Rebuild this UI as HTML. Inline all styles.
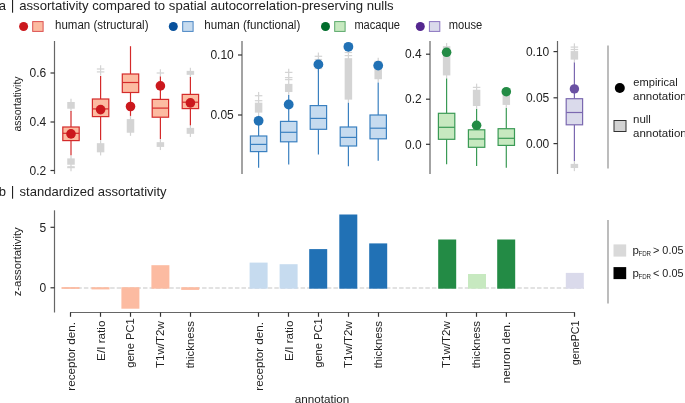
<!DOCTYPE html>
<html><head><meta charset="utf-8"><style>
html,body{margin:0;padding:0;background:#fff;width:685px;height:403px;overflow:hidden}
svg{display:block;font-family:"Liberation Sans", sans-serif;will-change:transform}
</style></head><body>
<svg width="685" height="403" viewBox="0 0 685 403">
<rect width="685" height="403" fill="#fff"/>
<text x="-1.2" y="10" font-size="13" text-anchor="start" fill="#222" >a</text>
<rect x="12" y="0" width="1.1" height="12.7" fill="#222" stroke="none" stroke-width="0" />
<text x="19.2" y="10" font-size="13" text-anchor="start" fill="#222" textLength="374.5" lengthAdjust="spacingAndGlyphs" >assortativity compared to spatial autocorrelation-preserving nulls</text>
<text x="-1.2" y="196" font-size="13" text-anchor="start" fill="#222" >b</text>
<rect x="12" y="186" width="1.1" height="12.7" fill="#222" stroke="none" stroke-width="0" />
<text x="19.6" y="196" font-size="13" text-anchor="start" fill="#222" textLength="147" lengthAdjust="spacingAndGlyphs" >standardized assortativity</text>
<circle cx="23.6" cy="26.5" r="4.5" fill="#cb181d"/>
<rect x="32.7" y="21.6" width="10.4" height="9.8" fill="#fcbba1" stroke="#dc5050" stroke-width="1" />
<text x="55" y="29.4" font-size="12" text-anchor="start" fill="#222" textLength="93.5" lengthAdjust="spacingAndGlyphs" >human (structural)</text>
<circle cx="173.3" cy="26.5" r="4.5" fill="#08519c"/>
<rect x="182.7" y="21.6" width="10.4" height="9.8" fill="#c6dbef" stroke="#4a86c4" stroke-width="1" />
<text x="204.3" y="29.4" font-size="12" text-anchor="start" fill="#222" textLength="96" lengthAdjust="spacingAndGlyphs" >human (functional)</text>
<circle cx="325.5" cy="26.5" r="4.5" fill="#006d2c"/>
<rect x="334.7" y="21.6" width="10.4" height="9.8" fill="#c7e9c0" stroke="#5aa86a" stroke-width="1" />
<text x="354.4" y="29.4" font-size="12" text-anchor="start" fill="#222" textLength="45.6" lengthAdjust="spacingAndGlyphs" >macaque</text>
<circle cx="420.3" cy="26.5" r="4.5" fill="#54278f"/>
<rect x="429.4" y="21.6" width="10.4" height="9.8" fill="#dadaeb" stroke="#8a74bf" stroke-width="1" />
<text x="448.7" y="29.4" font-size="12" text-anchor="start" fill="#222" textLength="33.5" lengthAdjust="spacingAndGlyphs" >mouse</text>
<line x1="54.5" y1="41" x2="54.5" y2="174" stroke="#666" stroke-width="1.2" />
<line x1="50.5" y1="73" x2="54.5" y2="73" stroke="#333" stroke-width="1.2" />
<text x="46.3" y="77.2" font-size="12" text-anchor="end" fill="#222" >0.6</text>
<line x1="50.5" y1="122" x2="54.5" y2="122" stroke="#333" stroke-width="1.2" />
<text x="46.3" y="126.2" font-size="12" text-anchor="end" fill="#222" >0.4</text>
<line x1="50.5" y1="170.5" x2="54.5" y2="170.5" stroke="#333" stroke-width="1.2" />
<text x="46.3" y="174.7" font-size="12" text-anchor="end" fill="#222" >0.2</text>
<text x="21" y="104" font-size="11.5" text-anchor="middle" fill="#222" textLength="55" lengthAdjust="spacingAndGlyphs" transform="rotate(-90 21 104)" >assortativity</text>
<rect x="67.25" y="101.975" width="7.5" height="6.75" fill="#d4d4d4" stroke="none" stroke-width="0" />
<line x1="71" y1="98.85" x2="71" y2="111.85" stroke="#d4d4d4" stroke-width="1.25" />
<rect x="67.25" y="158.375" width="7.5" height="6.349999999999994" fill="#d4d4d4" stroke="none" stroke-width="0" />
<line x1="71" y1="155.25" x2="71" y2="171.35" stroke="#d4d4d4" stroke-width="1.25" />
<line x1="67.25" y1="166.8" x2="74.75" y2="166.8" stroke="#d4d4d4" stroke-width="1.25" />
<line x1="67.25" y1="167.6" x2="74.75" y2="167.6" stroke="#d4d4d4" stroke-width="1.25" />
<line x1="100.6" y1="65.25" x2="100.6" y2="75.65" stroke="#d4d4d4" stroke-width="1.25" />
<line x1="96.85" y1="69" x2="104.35" y2="69" stroke="#d4d4d4" stroke-width="1.25" />
<line x1="96.85" y1="71.9" x2="104.35" y2="71.9" stroke="#d4d4d4" stroke-width="1.25" />
<rect x="96.85" y="143.175" width="7.5" height="9.149999999999977" fill="#d4d4d4" stroke="none" stroke-width="0" />
<line x1="100.6" y1="140.05" x2="100.6" y2="155.45" stroke="#d4d4d4" stroke-width="1.25" />
<rect x="126.75" y="119.075" width="7.5" height="13.649999999999991" fill="#d4d4d4" stroke="none" stroke-width="0" />
<line x1="130.5" y1="115.95" x2="130.5" y2="135.85" stroke="#d4d4d4" stroke-width="1.25" />
<line x1="160.4" y1="69.25" x2="160.4" y2="76.75" stroke="#d4d4d4" stroke-width="1.25" />
<line x1="156.65" y1="73" x2="164.15" y2="73" stroke="#d4d4d4" stroke-width="1.25" />
<rect x="156.65" y="142.175" width="7.5" height="4.75" fill="#d4d4d4" stroke="none" stroke-width="0" />
<line x1="160.4" y1="139.05" x2="160.4" y2="150.05" stroke="#d4d4d4" stroke-width="1.25" />
<rect x="186.65" y="70.875" width="7.5" height="3.950000000000003" fill="#d4d4d4" stroke="none" stroke-width="0" />
<line x1="190.4" y1="67.75" x2="190.4" y2="77.95" stroke="#d4d4d4" stroke-width="1.25" />
<rect x="186.65" y="127.875" width="7.5" height="5.949999999999989" fill="#d4d4d4" stroke="none" stroke-width="0" />
<line x1="190.4" y1="124.75" x2="190.4" y2="136.95" stroke="#d4d4d4" stroke-width="1.25" />
<line x1="71" y1="111.1" x2="71" y2="127" stroke="#d42a2a" stroke-width="1.2" />
<line x1="71" y1="140.6" x2="71" y2="155.3" stroke="#d42a2a" stroke-width="1.2" />
<rect x="62.8" y="127" width="16.4" height="13.599999999999994" fill="#fcbba1" stroke="#d42a2a" stroke-width="1.2" />
<line x1="62.8" y1="133.3" x2="79.2" y2="133.3" stroke="#d42a2a" stroke-width="1.2" />
<circle cx="71" cy="133.9" r="4.8" fill="#cb181d"/>
<line x1="100.6" y1="75.9" x2="100.6" y2="99" stroke="#d42a2a" stroke-width="1.2" />
<line x1="100.6" y1="116.6" x2="100.6" y2="139.9" stroke="#d42a2a" stroke-width="1.2" />
<rect x="92.39999999999999" y="99" width="16.4" height="17.599999999999994" fill="#fcbba1" stroke="#d42a2a" stroke-width="1.2" />
<line x1="92.39999999999999" y1="108.9" x2="108.8" y2="108.9" stroke="#d42a2a" stroke-width="1.2" />
<circle cx="100.6" cy="109.6" r="4.8" fill="#cb181d"/>
<line x1="130.5" y1="46.2" x2="130.5" y2="74" stroke="#d42a2a" stroke-width="1.2" />
<line x1="130.5" y1="92.5" x2="130.5" y2="115.9" stroke="#d42a2a" stroke-width="1.2" />
<rect x="122.3" y="74" width="16.4" height="18.5" fill="#fcbba1" stroke="#d42a2a" stroke-width="1.2" />
<line x1="122.3" y1="82.5" x2="138.7" y2="82.5" stroke="#d42a2a" stroke-width="1.2" />
<circle cx="130.5" cy="106.5" r="4.8" fill="#cb181d"/>
<line x1="160.4" y1="76.4" x2="160.4" y2="99.4" stroke="#d42a2a" stroke-width="1.2" />
<line x1="160.4" y1="117.2" x2="160.4" y2="139" stroke="#d42a2a" stroke-width="1.2" />
<rect x="152.20000000000002" y="99.4" width="16.4" height="17.799999999999997" fill="#fcbba1" stroke="#d42a2a" stroke-width="1.2" />
<line x1="152.20000000000002" y1="108.1" x2="168.6" y2="108.1" stroke="#d42a2a" stroke-width="1.2" />
<circle cx="160.4" cy="85.9" r="4.8" fill="#cb181d"/>
<line x1="190.4" y1="77.1" x2="190.4" y2="94.4" stroke="#d42a2a" stroke-width="1.2" />
<line x1="190.4" y1="108.6" x2="190.4" y2="125.2" stroke="#d42a2a" stroke-width="1.2" />
<rect x="182.20000000000002" y="94.4" width="16.4" height="14.199999999999989" fill="#fcbba1" stroke="#d42a2a" stroke-width="1.2" />
<line x1="182.20000000000002" y1="102.2" x2="198.6" y2="102.2" stroke="#d42a2a" stroke-width="1.2" />
<circle cx="190.4" cy="102.9" r="4.8" fill="#cb181d"/>
<line x1="242" y1="41" x2="242" y2="174" stroke="#666" stroke-width="1.2" />
<line x1="238" y1="55" x2="242" y2="55" stroke="#333" stroke-width="1.2" />
<text x="233.8" y="59.2" font-size="12" text-anchor="end" fill="#222" >0.10</text>
<line x1="238" y1="115" x2="242" y2="115" stroke="#333" stroke-width="1.2" />
<text x="233.8" y="119.2" font-size="12" text-anchor="end" fill="#222" >0.05</text>
<rect x="254.85000000000002" y="102.675" width="7.5" height="9.950000000000003" fill="#d4d4d4" stroke="none" stroke-width="0" />
<line x1="258.6" y1="91.95" x2="258.6" y2="115.75" stroke="#d4d4d4" stroke-width="1.25" />
<line x1="254.85000000000002" y1="95.7" x2="262.35" y2="95.7" stroke="#d4d4d4" stroke-width="1.25" />
<line x1="254.85000000000002" y1="100.7" x2="262.35" y2="100.7" stroke="#d4d4d4" stroke-width="1.25" />
<rect x="284.95" y="83.875" width="7.5" height="8.150000000000006" fill="#d4d4d4" stroke="none" stroke-width="0" />
<line x1="288.7" y1="68.65" x2="288.7" y2="95.15" stroke="#d4d4d4" stroke-width="1.25" />
<line x1="284.95" y1="72.4" x2="292.45" y2="72.4" stroke="#d4d4d4" stroke-width="1.25" />
<line x1="284.95" y1="77.6" x2="292.45" y2="77.6" stroke="#d4d4d4" stroke-width="1.25" />
<line x1="284.95" y1="79.6" x2="292.45" y2="79.6" stroke="#d4d4d4" stroke-width="1.25" />
<line x1="318.4" y1="52.55" x2="318.4" y2="72.25" stroke="#d4d4d4" stroke-width="1.25" />
<line x1="314.65" y1="56.3" x2="322.15" y2="56.3" stroke="#d4d4d4" stroke-width="1.25" />
<line x1="314.65" y1="59.5" x2="322.15" y2="59.5" stroke="#d4d4d4" stroke-width="1.25" />
<line x1="314.65" y1="68.5" x2="322.15" y2="68.5" stroke="#d4d4d4" stroke-width="1.25" />
<rect x="344.65" y="58.175" width="7.5" height="41.45" fill="#d4d4d4" stroke="none" stroke-width="0" />
<line x1="348.4" y1="48.75" x2="348.4" y2="102.75" stroke="#d4d4d4" stroke-width="1.25" />
<line x1="344.65" y1="52.5" x2="352.15" y2="52.5" stroke="#d4d4d4" stroke-width="1.25" />
<line x1="344.65" y1="55.6" x2="352.15" y2="55.6" stroke="#d4d4d4" stroke-width="1.25" />
<rect x="374.45" y="60.875" width="7.5" height="18.349999999999994" fill="#d4d4d4" stroke="none" stroke-width="0" />
<line x1="378.2" y1="57.75" x2="378.2" y2="82.35" stroke="#d4d4d4" stroke-width="1.25" />
<line x1="258.6" y1="115.8" x2="258.6" y2="136" stroke="#3a80c0" stroke-width="1.2" />
<line x1="258.6" y1="151.6" x2="258.6" y2="167.8" stroke="#3a80c0" stroke-width="1.2" />
<rect x="250.40000000000003" y="136" width="16.4" height="15.599999999999994" fill="#c6dbef" stroke="#3a80c0" stroke-width="1.2" />
<line x1="250.40000000000003" y1="144.4" x2="266.8" y2="144.4" stroke="#3a80c0" stroke-width="1.2" />
<circle cx="258.6" cy="120.8" r="4.9" fill="#2171b5"/>
<line x1="288.7" y1="95" x2="288.7" y2="121.4" stroke="#3a80c0" stroke-width="1.2" />
<line x1="288.7" y1="141.8" x2="288.7" y2="164.6" stroke="#3a80c0" stroke-width="1.2" />
<rect x="280.5" y="121.4" width="16.4" height="20.400000000000006" fill="#c6dbef" stroke="#3a80c0" stroke-width="1.2" />
<line x1="280.5" y1="132.3" x2="296.9" y2="132.3" stroke="#3a80c0" stroke-width="1.2" />
<circle cx="288.7" cy="104.5" r="4.9" fill="#2171b5"/>
<line x1="318.4" y1="64.4" x2="318.4" y2="105.6" stroke="#3a80c0" stroke-width="1.2" />
<line x1="318.4" y1="129.3" x2="318.4" y2="154.6" stroke="#3a80c0" stroke-width="1.2" />
<rect x="310.2" y="105.6" width="16.4" height="23.700000000000017" fill="#c6dbef" stroke="#3a80c0" stroke-width="1.2" />
<line x1="310.2" y1="118.4" x2="326.59999999999997" y2="118.4" stroke="#3a80c0" stroke-width="1.2" />
<circle cx="318.4" cy="64.4" r="4.9" fill="#2171b5"/>
<line x1="348.4" y1="102.7" x2="348.4" y2="127" stroke="#3a80c0" stroke-width="1.2" />
<line x1="348.4" y1="146" x2="348.4" y2="166.3" stroke="#3a80c0" stroke-width="1.2" />
<rect x="340.2" y="127" width="16.4" height="19" fill="#c6dbef" stroke="#3a80c0" stroke-width="1.2" />
<line x1="340.2" y1="137.4" x2="356.59999999999997" y2="137.4" stroke="#3a80c0" stroke-width="1.2" />
<circle cx="348.4" cy="46.8" r="4.9" fill="#2171b5"/>
<line x1="378.2" y1="82.4" x2="378.2" y2="115" stroke="#3a80c0" stroke-width="1.2" />
<line x1="378.2" y1="138.8" x2="378.2" y2="160.8" stroke="#3a80c0" stroke-width="1.2" />
<rect x="370.0" y="115" width="16.4" height="23.80000000000001" fill="#c6dbef" stroke="#3a80c0" stroke-width="1.2" />
<line x1="370.0" y1="128.2" x2="386.4" y2="128.2" stroke="#3a80c0" stroke-width="1.2" />
<circle cx="378.2" cy="65.6" r="4.9" fill="#2171b5"/>
<line x1="430" y1="41" x2="430" y2="174" stroke="#666" stroke-width="1.2" />
<line x1="426" y1="54.2" x2="430" y2="54.2" stroke="#333" stroke-width="1.2" />
<text x="421.8" y="58.400000000000006" font-size="12" text-anchor="end" fill="#222" >0.4</text>
<line x1="426" y1="99.2" x2="430" y2="99.2" stroke="#333" stroke-width="1.2" />
<text x="421.8" y="103.4" font-size="12" text-anchor="end" fill="#222" >0.2</text>
<line x1="426" y1="144.3" x2="430" y2="144.3" stroke="#333" stroke-width="1.2" />
<text x="421.8" y="148.5" font-size="12" text-anchor="end" fill="#222" >0.0</text>
<rect x="442.85" y="46.175" width="7.5" height="29.25" fill="#d4d4d4" stroke="none" stroke-width="0" />
<line x1="446.6" y1="43.05" x2="446.6" y2="78.55" stroke="#d4d4d4" stroke-width="1.25" />
<rect x="472.85" y="89.775" width="7.5" height="16.25" fill="#d4d4d4" stroke="none" stroke-width="0" />
<line x1="476.6" y1="83.65" x2="476.6" y2="109.15" stroke="#d4d4d4" stroke-width="1.25" />
<line x1="472.85" y1="87.4" x2="480.35" y2="87.4" stroke="#d4d4d4" stroke-width="1.25" />
<rect x="502.55" y="91.375" width="7.5" height="13.549999999999997" fill="#d4d4d4" stroke="none" stroke-width="0" />
<line x1="506.3" y1="88.25" x2="506.3" y2="108.05" stroke="#d4d4d4" stroke-width="1.25" />
<line x1="446.6" y1="78.5" x2="446.6" y2="113.3" stroke="#3a9a55" stroke-width="1.2" />
<line x1="446.6" y1="139.3" x2="446.6" y2="164.3" stroke="#3a9a55" stroke-width="1.2" />
<rect x="438.40000000000003" y="113.3" width="16.4" height="26.000000000000014" fill="#c7e9c0" stroke="#3a9a55" stroke-width="1.2" />
<line x1="438.40000000000003" y1="127.3" x2="454.8" y2="127.3" stroke="#3a9a55" stroke-width="1.2" />
<circle cx="446.6" cy="52.3" r="4.8" fill="#238b45"/>
<line x1="476.6" y1="109.1" x2="476.6" y2="129.8" stroke="#3a9a55" stroke-width="1.2" />
<line x1="476.6" y1="147.3" x2="476.6" y2="165.9" stroke="#3a9a55" stroke-width="1.2" />
<rect x="468.40000000000003" y="129.8" width="16.4" height="17.5" fill="#c7e9c0" stroke="#3a9a55" stroke-width="1.2" />
<line x1="468.40000000000003" y1="139" x2="484.8" y2="139" stroke="#3a9a55" stroke-width="1.2" />
<circle cx="476.6" cy="125.3" r="4.8" fill="#238b45"/>
<line x1="506.3" y1="108" x2="506.3" y2="128.7" stroke="#3a9a55" stroke-width="1.2" />
<line x1="506.3" y1="145.4" x2="506.3" y2="167.7" stroke="#3a9a55" stroke-width="1.2" />
<rect x="498.1" y="128.7" width="16.4" height="16.700000000000017" fill="#c7e9c0" stroke="#3a9a55" stroke-width="1.2" />
<line x1="498.1" y1="138.3" x2="514.5" y2="138.3" stroke="#3a9a55" stroke-width="1.2" />
<circle cx="506.3" cy="91.7" r="4.8" fill="#238b45"/>
<line x1="557.5" y1="41" x2="557.5" y2="174" stroke="#666" stroke-width="1.2" />
<line x1="553.5" y1="51.6" x2="557.5" y2="51.6" stroke="#333" stroke-width="1.2" />
<text x="549.3" y="55.800000000000004" font-size="12" text-anchor="end" fill="#222" >0.10</text>
<line x1="553.5" y1="97.8" x2="557.5" y2="97.8" stroke="#333" stroke-width="1.2" />
<text x="549.3" y="102.0" font-size="12" text-anchor="end" fill="#222" >0.05</text>
<line x1="553.5" y1="143.6" x2="557.5" y2="143.6" stroke="#333" stroke-width="1.2" />
<text x="549.3" y="147.79999999999998" font-size="12" text-anchor="end" fill="#222" >0.00</text>
<rect x="570.65" y="51.075" width="7.5" height="8.549999999999997" fill="#d4d4d4" stroke="none" stroke-width="0" />
<line x1="574.4" y1="43.35" x2="574.4" y2="62.75" stroke="#d4d4d4" stroke-width="1.25" />
<line x1="570.65" y1="47.1" x2="578.15" y2="47.1" stroke="#d4d4d4" stroke-width="1.25" />
<line x1="570.65" y1="49.5" x2="578.15" y2="49.5" stroke="#d4d4d4" stroke-width="1.25" />
<rect x="570.65" y="163.875" width="7.5" height="4.150000000000006" fill="#d4d4d4" stroke="none" stroke-width="0" />
<line x1="574.4" y1="160.75" x2="574.4" y2="171.15" stroke="#d4d4d4" stroke-width="1.25" />
<line x1="574.4" y1="62.6" x2="574.4" y2="98.7" stroke="#7b68b0" stroke-width="1.2" />
<line x1="574.4" y1="124.8" x2="574.4" y2="160.9" stroke="#7b68b0" stroke-width="1.2" />
<rect x="566.1999999999999" y="98.7" width="16.4" height="26.099999999999994" fill="#dadaeb" stroke="#7b68b0" stroke-width="1.2" />
<line x1="566.1999999999999" y1="112.5" x2="582.6" y2="112.5" stroke="#7b68b0" stroke-width="1.2" />
<circle cx="574.4" cy="88.9" r="4.7" fill="#6a51a3"/>
<line x1="608" y1="45.5" x2="608" y2="168.5" stroke="#999" stroke-width="1.3" />
<circle cx="619.8" cy="88" r="5" fill="#000"/>
<text x="633.3" y="86" font-size="11.5" text-anchor="start" fill="#222" textLength="44.4" lengthAdjust="spacingAndGlyphs" >empirical</text>
<text x="633" y="99.5" font-size="11.5" text-anchor="start" fill="#222" >annotation</text>
<rect x="614" y="120.5" width="12" height="11" fill="#d3d3d3" stroke="#333" stroke-width="1" />
<text x="633" y="123" font-size="11.5" text-anchor="start" fill="#222" >null</text>
<text x="633" y="137" font-size="11.5" text-anchor="start" fill="#222" >annotation</text>
<line x1="54.5" y1="210.3" x2="54.5" y2="312.5" stroke="#666" stroke-width="1.2" />
<line x1="50.5" y1="227.3" x2="54.5" y2="227.3" stroke="#333" stroke-width="1.2" />
<text x="46.3" y="231.5" font-size="12" text-anchor="end" fill="#222" >5</text>
<line x1="50.5" y1="287.8" x2="54.5" y2="287.8" stroke="#333" stroke-width="1.2" />
<text x="46.3" y="292.0" font-size="12" text-anchor="end" fill="#222" >0</text>
<text x="21.2" y="261.8" font-size="11.5" text-anchor="middle" fill="#222" textLength="69" lengthAdjust="spacingAndGlyphs" transform="rotate(-90 21.2 261.8)" >z-assortativity</text>
<line x1="64.17" y1="288" x2="584" y2="288" stroke="#d9d9d9" stroke-width="1.5" stroke-dasharray="4.5 2.067"/>
<rect x="61.5" y="287.1" width="18" height="1.7999999999999545" fill="#fcbba1" stroke="none" stroke-width="0" />
<rect x="91.5" y="287.2" width="18" height="2.1999999999999886" fill="#fcbba1" stroke="none" stroke-width="0" />
<rect x="121.4" y="287.2" width="18" height="21.5" fill="#fcbba1" stroke="none" stroke-width="0" />
<rect x="151.4" y="265.2" width="18" height="23.5" fill="#fcbba1" stroke="none" stroke-width="0" />
<rect x="181.2" y="287.2" width="18" height="2.6999999999999886" fill="#fcbba1" stroke="none" stroke-width="0" />
<rect x="249.60000000000002" y="262.6" width="18" height="26.099999999999966" fill="#c6dbef" stroke="none" stroke-width="0" />
<rect x="279.6" y="264.2" width="18" height="24.5" fill="#c6dbef" stroke="none" stroke-width="0" />
<rect x="309.2" y="249.1" width="18" height="39.599999999999994" fill="#2171b5" stroke="none" stroke-width="0" />
<rect x="339.3" y="214.5" width="18" height="74.19999999999999" fill="#2171b5" stroke="none" stroke-width="0" />
<rect x="369.2" y="243.4" width="18" height="45.29999999999998" fill="#2171b5" stroke="none" stroke-width="0" />
<rect x="438.2" y="239.5" width="18" height="49.19999999999999" fill="#238b45" stroke="none" stroke-width="0" />
<rect x="468" y="274" width="18" height="14.699999999999989" fill="#c7e9c0" stroke="none" stroke-width="0" />
<rect x="497.2" y="239.5" width="18" height="49.19999999999999" fill="#238b45" stroke="none" stroke-width="0" />
<rect x="565.8" y="272.9" width="18" height="15.800000000000011" fill="#dadaeb" stroke="none" stroke-width="0" />
<line x1="70" y1="312.5" x2="575" y2="312.5" stroke="#666" stroke-width="1.2" />
<line x1="70.5" y1="312.5" x2="70.5" y2="316.8" stroke="#333" stroke-width="1.2" />
<text x="74.5" y="322.0" font-size="11.5" text-anchor="end" fill="#222" textLength="68.7" lengthAdjust="spacingAndGlyphs" transform="rotate(-90 74.5 322.0)" >receptor den.</text>
<line x1="100.5" y1="312.5" x2="100.5" y2="316.8" stroke="#333" stroke-width="1.2" />
<text x="104.5" y="320.5" font-size="11.5" text-anchor="end" fill="#222" textLength="40.4" lengthAdjust="spacingAndGlyphs" transform="rotate(-90 104.5 320.5)" >E/I ratio</text>
<line x1="130.5" y1="312.5" x2="130.5" y2="316.8" stroke="#333" stroke-width="1.2" />
<text x="134.5" y="318.3" font-size="11.5" text-anchor="end" fill="#222" textLength="49.5" lengthAdjust="spacingAndGlyphs" transform="rotate(-90 134.5 318.3)" >gene PC1</text>
<line x1="160.5" y1="312.5" x2="160.5" y2="316.8" stroke="#333" stroke-width="1.2" />
<text x="164.5" y="321.2" font-size="11.5" text-anchor="end" fill="#222" textLength="46.9" lengthAdjust="spacingAndGlyphs" transform="rotate(-90 164.5 321.2)" >T1w/T2w</text>
<line x1="190.5" y1="312.5" x2="190.5" y2="316.8" stroke="#333" stroke-width="1.2" />
<text x="194.5" y="321.2" font-size="11.5" text-anchor="end" fill="#222" textLength="47.1" lengthAdjust="spacingAndGlyphs" transform="rotate(-90 194.5 321.2)" >thickness</text>
<line x1="258.5" y1="312.5" x2="258.5" y2="316.8" stroke="#333" stroke-width="1.2" />
<text x="262.5" y="322.0" font-size="11.5" text-anchor="end" fill="#222" textLength="68.7" lengthAdjust="spacingAndGlyphs" transform="rotate(-90 262.5 322.0)" >receptor den.</text>
<line x1="288.5" y1="312.5" x2="288.5" y2="316.8" stroke="#333" stroke-width="1.2" />
<text x="292.5" y="320.5" font-size="11.5" text-anchor="end" fill="#222" textLength="40.4" lengthAdjust="spacingAndGlyphs" transform="rotate(-90 292.5 320.5)" >E/I ratio</text>
<line x1="318.5" y1="312.5" x2="318.5" y2="316.8" stroke="#333" stroke-width="1.2" />
<text x="322.5" y="318.3" font-size="11.5" text-anchor="end" fill="#222" textLength="49.5" lengthAdjust="spacingAndGlyphs" transform="rotate(-90 322.5 318.3)" >gene PC1</text>
<line x1="348.5" y1="312.5" x2="348.5" y2="316.8" stroke="#333" stroke-width="1.2" />
<text x="352.5" y="321.2" font-size="11.5" text-anchor="end" fill="#222" textLength="46.9" lengthAdjust="spacingAndGlyphs" transform="rotate(-90 352.5 321.2)" >T1w/T2w</text>
<line x1="378.5" y1="312.5" x2="378.5" y2="316.8" stroke="#333" stroke-width="1.2" />
<text x="382.5" y="321.2" font-size="11.5" text-anchor="end" fill="#222" textLength="47.1" lengthAdjust="spacingAndGlyphs" transform="rotate(-90 382.5 321.2)" >thickness</text>
<line x1="446.5" y1="312.5" x2="446.5" y2="316.8" stroke="#333" stroke-width="1.2" />
<text x="450.5" y="321.2" font-size="11.5" text-anchor="end" fill="#222" textLength="46.9" lengthAdjust="spacingAndGlyphs" transform="rotate(-90 450.5 321.2)" >T1w/T2w</text>
<line x1="476.5" y1="312.5" x2="476.5" y2="316.8" stroke="#333" stroke-width="1.2" />
<text x="480.5" y="321.2" font-size="11.5" text-anchor="end" fill="#222" textLength="47.1" lengthAdjust="spacingAndGlyphs" transform="rotate(-90 480.5 321.2)" >thickness</text>
<line x1="506.4" y1="312.5" x2="506.4" y2="316.8" stroke="#333" stroke-width="1.2" />
<text x="510.4" y="321.9" font-size="11.5" text-anchor="end" fill="#222" textLength="61.3" lengthAdjust="spacingAndGlyphs" transform="rotate(-90 510.4 321.9)" >neuron den.</text>
<line x1="574.5" y1="312.5" x2="574.5" y2="316.8" stroke="#333" stroke-width="1.2" />
<text x="578.5" y="320.5" font-size="11.5" text-anchor="end" fill="#222" textLength="44.7" lengthAdjust="spacingAndGlyphs" transform="rotate(-90 578.5 320.5)" >genePC1</text>
<text x="322" y="403" font-size="11.5" text-anchor="middle" fill="#222" textLength="54.5" lengthAdjust="spacingAndGlyphs" >annotation</text>
<line x1="608" y1="220" x2="608" y2="303.6" stroke="#999" stroke-width="1.3" />
<rect x="613.5" y="244.4" width="12.7" height="12.2" fill="#d9d9d9" stroke="none" stroke-width="0" />
<rect x="613.5" y="267.1" width="12.7" height="12" fill="#000" stroke="none" stroke-width="0" />
<text x="632.5" y="254.2" font-size="11.5" text-anchor="start" fill="#222" >p</text>
<text x="638.4" y="256.0" font-size="6.8" text-anchor="start" fill="#222" textLength="12.7" lengthAdjust="spacingAndGlyphs" >FDR</text>
<text x="653" y="254.2" font-size="11.5" text-anchor="start" fill="#222" textLength="30.5" lengthAdjust="spacingAndGlyphs" >&gt; 0.05</text>
<text x="632.5" y="276.8" font-size="11.5" text-anchor="start" fill="#222" >p</text>
<text x="638.4" y="278.6" font-size="6.8" text-anchor="start" fill="#222" textLength="12.7" lengthAdjust="spacingAndGlyphs" >FDR</text>
<text x="653" y="276.8" font-size="11.5" text-anchor="start" fill="#222" textLength="30.5" lengthAdjust="spacingAndGlyphs" >&lt; 0.05</text>
</svg></body></html>
